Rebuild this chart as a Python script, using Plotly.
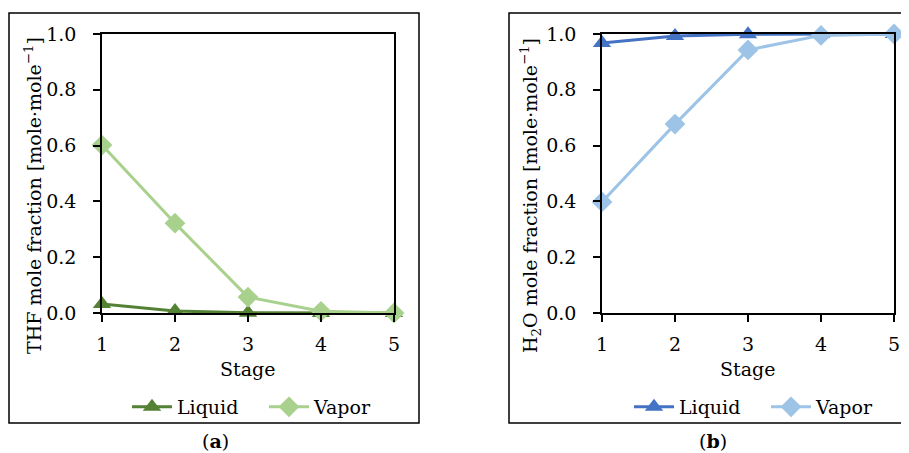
import plotly.graph_objects as go
from plotly.subplots import make_subplots

stages = [1, 2, 3, 4, 5]
thf_liquid = [0.032, 0.007, 0.001, 0.0, 0.0]
thf_vapor = [0.602, 0.322, 0.057, 0.006, 0.0]
h2o_liquid = [0.968, 0.993, 0.999, 1.0, 1.0]
h2o_vapor = [0.398, 0.677, 0.943, 0.995, 1.0]
y_ticks = [0.0, 0.2, 0.4, 0.6, 0.8, 1.0]
y_tick_labels = ["0.0", "0.2", "0.4", "0.6", "0.8", "1.0"]

c_green_dark = "#548235"
c_green_light = "#A9D18E"
c_blue_dark = "#4472C4"
c_blue_light = "#9DC3E6"

FONT = "DejaVu Serif"
FS = 19

# page body has an 8px margin; figure sized to fit the 909x453 window
OFF = 8
W, H = 909 - OFF, 453 - OFF

fig = make_subplots(rows=1, cols=2)

def add(x, y, name, color, symbol, col, legend):
    fig.add_trace(go.Scatter(
        x=x, y=y, name=name, mode="lines+markers",
        line=dict(color=color, width=3),
        marker=dict(symbol=symbol, size=16, color=color),
        cliponaxis=False, legend=legend,
    ), row=1, col=col)

add(stages, thf_liquid, "Liquid", c_green_dark, "triangle-up", 1, "legend")
add(stages, thf_vapor, "Vapor", c_green_light, "diamond", 1, "legend")
add(stages, h2o_liquid, "Liquid", c_blue_dark, "triangle-up", 2, "legend2")
add(stages, h2o_vapor, "Vapor", c_blue_light, "diamond", 2, "legend2")

def px_x(p):
    return (p - OFF) / W

def px_y(p):
    return 1 - (p - OFF) / H

ydom = [px_y(313), px_y(34)]
xdom1 = [px_x(102), px_x(394)]
xdom2 = [px_x(602), px_x(894)]

axis_common = dict(
    showline=True, linecolor="black", linewidth=1.5, mirror=True,
    showgrid=False, zeroline=False, ticks="outside", ticklen=7,
    tickcolor="black", tickwidth=1.5, automargin=False,
    tickfont=dict(family=FONT, size=FS, color="black"),
)

fig.update_xaxes(range=[1, 5], tickvals=stages, domain=xdom1, row=1, col=1, **axis_common)
fig.update_xaxes(range=[1, 5], tickvals=stages, domain=xdom2, row=1, col=2, **axis_common)
fig.update_yaxes(range=[0, 1], tickvals=y_ticks, ticktext=y_tick_labels, domain=ydom, row=1, col=1, **axis_common)
fig.update_yaxes(range=[0, 1], tickvals=y_ticks, ticktext=y_tick_labels, domain=ydom, row=1, col=2, **axis_common)
fig.update_xaxes(ticklabelstandoff=6)
fig.update_yaxes(ticklabelstandoff=13)

ann_font = dict(family=FONT, size=FS, color="black")
annotations = [
    dict(text="THF mole fraction [mole·mole<sup>−1</sup>]", x=px_x(33), y=px_y(196),
         textangle=-90, showarrow=False, xref="paper", yref="paper", font=ann_font,
         xanchor="center", yanchor="middle"),
    dict(text="H<sub>2</sub>O mole fraction [mole·mole<sup>−1</sup>]", x=px_x(531), y=px_y(196),
         textangle=-90, showarrow=False, xref="paper", yref="paper", font=ann_font,
         xanchor="center", yanchor="middle"),
    dict(text="Stage", x=px_x(247), y=px_y(369), showarrow=False, xref="paper", yref="paper",
         font=ann_font, xanchor="center", yanchor="middle"),
    dict(text="Stage", x=px_x(747), y=px_y(369), showarrow=False, xref="paper", yref="paper",
         font=ann_font, xanchor="center", yanchor="middle"),
    dict(text="(<b>a</b>)", x=px_x(215), y=px_y(441), showarrow=False, xref="paper", yref="paper",
         font=ann_font, xanchor="center", yanchor="middle"),
    dict(text="(<b>b</b>)", x=px_x(713), y=px_y(441), showarrow=False, xref="paper", yref="paper",
         font=ann_font, xanchor="center", yanchor="middle"),
]

shapes = [
    dict(type="rect", xref="paper", yref="paper", x0=px_x(9), x1=px_x(419), y0=px_y(423), y1=px_y(13),
         line=dict(color="black", width=1.5)),
    dict(type="rect", xref="paper", yref="paper", x0=px_x(509), x1=px_x(930), y0=px_y(423), y1=px_y(13),
         line=dict(color="black", width=1.5)),
]

legend_common = dict(orientation="h", xref="paper", yref="paper", xanchor="left", yanchor="middle",
                     font=dict(family=FONT, size=FS, color="black"), bgcolor="rgba(0,0,0,0)",
                     itemwidth=40, tracegroupgap=0, entrywidth=82, entrywidthmode="pixels")

fig.update_layout(
    template="none",
    width=W, height=H,
    margin=dict(l=0, r=0, t=0, b=0, autoexpand=False),
    paper_bgcolor="white", plot_bgcolor="white",
    showlegend=True,
    legend=dict(x=px_x(127), y=px_y(407), **legend_common),
    legend2=dict(x=px_x(629), y=px_y(407), **legend_common),
    annotations=annotations,
    shapes=shapes,
)

fig.write_html("out.html")
